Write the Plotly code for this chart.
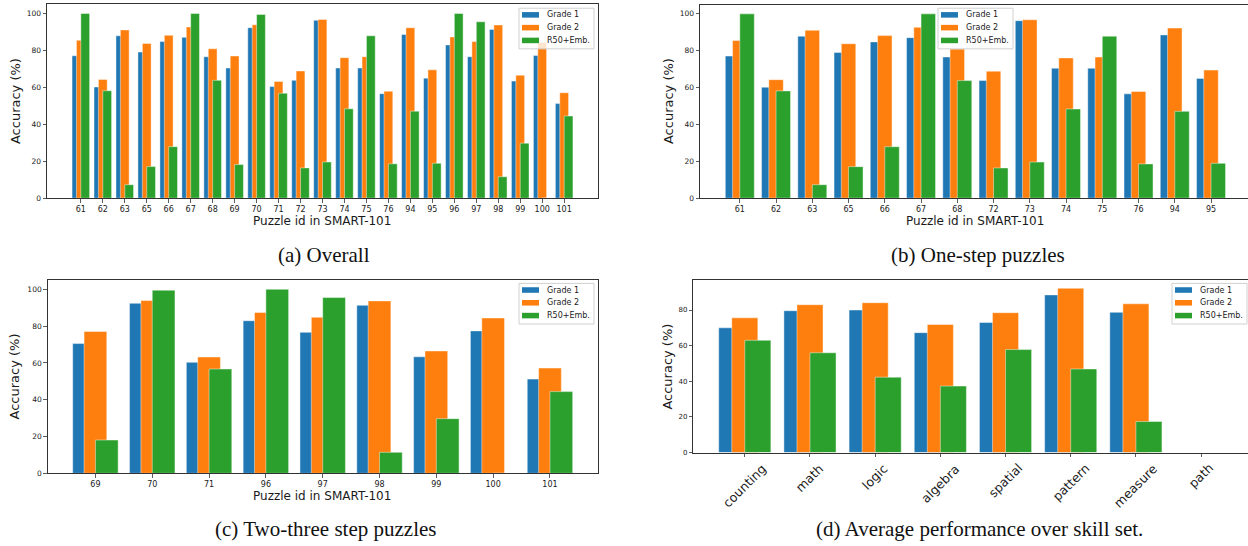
import plotly.graph_objects as go

W, H = 1248, 546

series_names = ["Grade 1", "Grade 2", "R50+Emb."]
series_colors = ["#1f77b4", "#ff7f0e", "#2ca02c"]

# (a) Overall
overall_ids = ["61", "62", "63", "65", "66", "67", "68", "69", "70", "71", "72", "73",
               "74", "75", "76", "94", "95", "96", "97", "98", "99", "100", "101"]
overall_g1 = [77.1, 60.2, 87.9, 79.1, 84.8, 87.1, 76.6, 70.5, 92.3, 60.4, 63.8, 96.3,
              70.5, 70.5, 56.6, 88.6, 65.0, 83.0, 76.6, 91.4, 63.4, 77.3, 51.2]
overall_g2 = [85.5, 64.3, 91.1, 83.8, 88.2, 92.7, 80.9, 77.0, 93.9, 63.2, 68.9, 96.8,
              76.1, 76.6, 57.9, 92.3, 69.5, 87.3, 84.8, 93.8, 66.6, 84.3, 57.1]
overall_r50 = [100.0, 58.2, 7.3, 17.1, 27.9, 100.0, 63.8, 18.2, 99.5, 56.8, 16.4, 19.6,
               48.4, 87.9, 18.6, 47.1, 18.9, 100.0, 95.5, 11.6, 29.8, 0.0, 44.5]

# (b) One-step puzzles
one_ids = ["61", "62", "63", "65", "66", "67", "68", "72", "73", "74", "75", "76", "94", "95"]
one_g1 = [77.1, 60.2, 87.9, 79.1, 84.8, 87.1, 76.6, 63.8, 96.3, 70.5, 70.5, 56.6, 88.6, 65.0]
one_g2 = [85.5, 64.3, 91.1, 83.8, 88.2, 92.7, 80.9, 68.9, 96.8, 76.1, 76.6, 57.9, 92.3, 69.5]
one_r50 = [100.0, 58.2, 7.3, 17.1, 27.9, 100.0, 63.8, 16.4, 19.6, 48.4, 87.9, 18.6, 47.1, 18.9]

# (c) Two-three step puzzles
multi_ids = ["69", "70", "71", "96", "97", "98", "99", "100", "101"]
multi_g1 = [70.5, 92.4, 60.3, 82.9, 76.6, 91.3, 63.3, 77.4, 51.2]
multi_g2 = [77.1, 93.9, 63.2, 87.4, 84.8, 93.7, 66.5, 84.4, 57.2]
multi_r50 = [18.1, 99.5, 56.7, 100.0, 95.5, 11.4, 29.7, 0.0, 44.4]

# (d) Average performance over skill set
skills = ["counting", "math", "logic", "algebra", "spatial", "pattern", "measure", "path"]
skill_g1 = [70.0, 79.6, 80.0, 67.3, 73.0, 88.5, 78.7, 0.0]
skill_g2 = [75.6, 83.0, 84.1, 71.9, 78.5, 92.2, 83.5, 0.0]
skill_r50 = [63.0, 56.0, 42.3, 37.3, 57.8, 46.9, 17.4, 0.0]

captions = ["(a) Overall", "(b) One-step puzzles", "(c) Two-three step puzzles",
            "(d) Average performance over skill set."]
x_title = "Puzzle id in SMART-101"
y_title = "Accuracy (%)"

SANS = "DejaVu Sans"
SERIF = "Liberation Serif"
LINE = "#333333"
TXT = "#1a1a1a"


def px_x(p):
    return p / W


def px_y(p):
    return 1 - p / H


panels = [
    dict(ids=overall_ids, vals=[overall_g1, overall_g2, overall_r50],
         xpx=(47, 598), ypx=(4.3, 200), xr=[-1.54, 23.54], yr=[0, 105],
         mirror_y=True, yt=[0, 20, 40, 60, 80, 100], tf=8, ytf=7.5,
         rot=False, xtitle=(322, 223), ytitle=(15, 102), cap=(324, 257.5),
         leg=(519, 8.3)),
    dict(ids=one_ids, vals=[one_g1, one_g2, one_r50],
         xpx=(700, 1248), ypx=(4.7, 200), xr=[-1.098, 14.02], yr=[0, 105],
         mirror_y=False, yt=[0, 20, 40, 60, 80, 100], tf=8, ytf=7.5,
         rot=False, xtitle=(975, 223), ytitle=(668, 102), cap=(978, 257.5),
         leg=(938, 8.3)),
    dict(ids=multi_ids, vals=[multi_g1, multi_g2, multi_r50],
         xpx=(47.7, 597.7), ypx=(282.7, 477.7), xr=[-0.84, 8.84], yr=[0, 105],
         mirror_y=True, yt=[0, 20, 40, 60, 80, 100], tf=8, ytf=7.5,
         rot=False, xtitle=(322, 501), ytitle=(15, 380), cap=(325, 534),
         leg=(519, 286)),
    dict(ids=skills, vals=[skill_g1, skill_g2, skill_r50],
         xpx=(693.3, 1248), ypx=(282.7, 456.7), xr=[-0.79, 7.72], yr=[0, 96.8],
         mirror_y=False, yt=[0, 20, 40, 60, 80], tf=12.5, ytf=7,
         rot=True, xtitle=None, ytitle=(668, 370), cap=(979, 534),
         leg=(1172, 286)),
]

fig = go.Figure()
shapes = []
annotations = []

for k, p in enumerate(panels):
    sfx = "" if k == 0 else str(k + 1)
    xa, ya = "x" + sfx, "y" + sfx
    for i in range(3):
        fig.add_trace(go.Bar(
            x=p["ids"], y=p["vals"][i], name=series_names[i],
            width=0.4, offset=-0.4 + 0.2 * i,
            marker=dict(color=series_colors[i],
                        line=dict(color="rgba(255,255,255,0.55)", width=0.8)),
            xaxis=xa, yaxis=ya, showlegend=False, hoverinfo="x+y",
        ))
    fig.update_layout(**{
        "xaxis" + sfx: dict(
            domain=[px_x(p["xpx"][0]), px_x(p["xpx"][1])], range=p["xr"],
            type="category", categoryorder="array", categoryarray=p["ids"],
            tickmode="array", tickvals=p["ids"], ticktext=p["ids"],
            anchor=ya, showline=True, linecolor=LINE, linewidth=1, mirror=True,
            ticks="outside", ticklen=3.5, tickwidth=0.8, tickcolor=LINE,
            showticklabels=not p["rot"],
            tickfont=dict(family=SANS, size=p["tf"], color=TXT),
            showgrid=False, zeroline=False, fixedrange=True),
        "yaxis" + sfx: dict(
            domain=[px_y(p["ypx"][1]), px_y(p["ypx"][0])], range=p["yr"],
            anchor=xa, tickmode="array", tickvals=p["yt"],
            showline=True, linecolor=LINE, linewidth=1, mirror=p["mirror_y"],
            ticks="outside", ticklen=3.5, tickwidth=0.8, tickcolor=LINE,
            tickfont=dict(family=SANS, size=p["ytf"], color=TXT),
            showgrid=False, zeroline=False, fixedrange=True),
    })

    if p["rot"]:
        for cat in p["ids"]:
            annotations.append(dict(
                x=cat, xref=xa, y=px_y(p["ypx"][1] + 5.5), yref="paper",
                text=cat, textangle=-45, showarrow=False,
                xanchor="center", yanchor="top",
                font=dict(family=SANS, size=p["tf"], color=TXT)))

    if p["xtitle"]:
        annotations.append(dict(
            x=px_x(p["xtitle"][0]), y=px_y(p["xtitle"][1]), xref="paper", yref="paper",
            text=x_title, showarrow=False, xanchor="center", yanchor="middle",
            font=dict(family=SANS, size=12, color=TXT)))
    annotations.append(dict(
        x=px_x(p["ytitle"][0]), y=px_y(p["ytitle"][1]), xref="paper", yref="paper",
        text=y_title, textangle=-90, showarrow=False, xanchor="center", yanchor="middle",
        font=dict(family=SANS, size=13, color=TXT)))
    annotations.append(dict(
        x=px_x(p["cap"][0]), y=px_y(p["cap"][1]), xref="paper", yref="paper",
        text=captions[k], showarrow=False, xanchor="center", yanchor="middle",
        font=dict(family=SERIF, size=21, color="#111111")))

    # legend box (matplotlib style)
    lx, ly = p["leg"]
    shapes.append(dict(type="rect", xref="paper", yref="paper", layer="above",
                       x0=px_x(lx), x1=px_x(lx + 75), y0=px_y(ly + 41), y1=px_y(ly),
                       fillcolor="rgba(255,255,255,0.8)",
                       line=dict(color="#d0d0d0", width=1)))
    for i in range(3):
        cy = ly + 6.7 + 12.9 * i
        shapes.append(dict(type="rect", xref="paper", yref="paper", layer="above",
                           x0=px_x(lx + 3), x1=px_x(lx + 20),
                           y0=px_y(cy + 2.8), y1=px_y(cy - 2.8),
                           fillcolor=series_colors[i], line=dict(width=0)))
        annotations.append(dict(
            x=px_x(lx + 25.5), y=px_y(cy), xref="paper", yref="paper",
            text=series_names[i], showarrow=False, xanchor="left", yanchor="middle",
            font=dict(family=SANS, size=8, color=TXT)))

fig.update_layout(
    width=W, height=H, margin=dict(l=0, r=0, t=0, b=0),
    paper_bgcolor="white", plot_bgcolor="white",
    barmode="overlay", showlegend=False,
    shapes=shapes, annotations=annotations,
)

fig.write_html(
    "out.html",
    config={"displayModeBar": False, "staticPlot": True},
    post_script="document.body.style.margin='0';document.body.style.overflow='hidden';",
)
